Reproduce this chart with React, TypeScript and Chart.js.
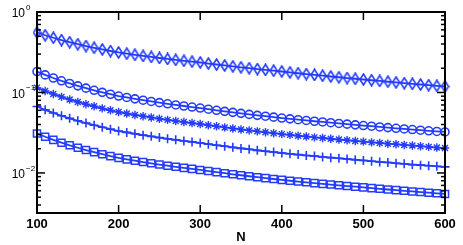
import React, { useEffect, useRef } from "react";
import { Chart, registerables } from "chart.js";

Chart.register(...registerables);

const nValues = [
  100, 110, 120, 130, 140, 150, 160, 170, 180, 190,
  200, 210, 220, 230, 240, 250, 260, 270, 280, 290,
  300, 310, 320, 330, 340, 350, 360, 370, 380, 390,
  400, 410, 420, 430, 440, 450, 460, 470, 480, 490,
  500, 510, 520, 530, 540, 550, 560, 570, 580, 590, 600,
];

const diamondValues = [
  0.556, 0.514, 0.4786, 0.448, 0.4215, 0.398, 0.3775, 0.359, 0.3426, 0.3276,
  0.314, 0.3034, 0.2936, 0.2844, 0.2761, 0.2683, 0.2609, 0.2541, 0.2476, 0.2416,
  0.2359, 0.229, 0.2226, 0.2166, 0.2109, 0.2055, 0.2003, 0.1955, 0.1909, 0.1865,
  0.1823, 0.1777, 0.1734, 0.1693, 0.1653, 0.1616, 0.158, 0.1546, 0.1512, 0.1481,
  0.145, 0.1419, 0.139, 0.136, 0.1333, 0.1306, 0.1281, 0.1256, 0.1232, 0.1209, 0.1187,
];

const circleValues = [
  0.182, 0.1653, 0.1514, 0.1396, 0.1295, 0.1208, 0.1132, 0.1065, 0.1004, 0.0951,
  0.0903, 0.0867, 0.0833, 0.0802, 0.0774, 0.0748, 0.0723, 0.07, 0.0679, 0.0659,
  0.0641, 0.062, 0.0601, 0.0583, 0.0566, 0.055, 0.0534, 0.052, 0.0507, 0.0494,
  0.0481, 0.047, 0.0459, 0.0449, 0.0439, 0.043, 0.0421, 0.0412, 0.0404, 0.0396,
  0.0388, 0.0381, 0.0373, 0.0366, 0.0359, 0.0352, 0.0346, 0.034, 0.0334, 0.0328, 0.0323,
];

const starValues = [
  0.115, 0.1044, 0.0957, 0.0882, 0.0818, 0.0763, 0.0715, 0.0673, 0.0635, 0.0601,
  0.0571, 0.0548, 0.0526, 0.0507, 0.0489, 0.0472, 0.0457, 0.0443, 0.0429, 0.0417,
  0.0405, 0.0392, 0.038, 0.0368, 0.0357, 0.0347, 0.0338, 0.0329, 0.032, 0.0312,
  0.0304, 0.0297, 0.029, 0.0284, 0.0277, 0.0272, 0.0266, 0.026, 0.0255, 0.025,
  0.0245, 0.024, 0.0236, 0.0231, 0.0227, 0.0223, 0.0219, 0.0215, 0.0211, 0.0207, 0.0204,
];

const plusValues = [
  0.067, 0.0608, 0.0557, 0.0514, 0.0477, 0.0445, 0.0417, 0.0392, 0.037, 0.035,
  0.0332, 0.0319, 0.0307, 0.0295, 0.0285, 0.0275, 0.0266, 0.0258, 0.025, 0.0243,
  0.0236, 0.0228, 0.0221, 0.0215, 0.0208, 0.0202, 0.0197, 0.0191, 0.0186, 0.0182,
  0.0177, 0.0173, 0.0169, 0.0165, 0.0162, 0.0158, 0.0155, 0.0152, 0.0149, 0.0146,
  0.0143, 0.014, 0.0137, 0.0135, 0.0132, 0.013, 0.0127, 0.0125, 0.0123, 0.0121, 0.0119,
];

const squareValues = [
  0.031, 0.02815, 0.02579, 0.02378, 0.02206, 0.02057, 0.01928, 0.01814, 0.01711, 0.0162,
  0.01538, 0.01476, 0.01419, 0.01366, 0.01318, 0.01273, 0.01232, 0.01193, 0.01157, 0.01123,
  0.01091, 0.01056, 0.01024, 0.00993, 0.00963, 0.00936, 0.0091, 0.00886, 0.00863, 0.00841,
  0.0082, 0.008, 0.00782, 0.00765, 0.00748, 0.00732, 0.00717, 0.00702, 0.00688, 0.00675,
  0.00662, 0.00648, 0.00636, 0.00623, 0.00612, 0.006, 0.00589, 0.00579, 0.00569, 0.00559, 0.00549,
];

const xTicks = [100, 200, 300, 400, 500, 600];
const yMajorTicks = [1, 0.1, 0.01];
const yExponentLabels = ["0", "\u22121", "\u22122"];
const xAxisTitle = "N";

const BLUE = "rgb(36,60,255)";
const FONT = '"Liberation Sans", Arial, Helvetica, sans-serif';

function makeDiamond(): HTMLCanvasElement {
  const c = document.createElement("canvas");
  c.width = 9;
  c.height = 13;
  const g = c.getContext("2d")!;
  g.strokeStyle = BLUE;
  g.lineWidth = 1.6;
  g.beginPath();
  g.moveTo(4.5, 1);
  g.lineTo(8, 6.5);
  g.lineTo(4.5, 12);
  g.lineTo(1, 6.5);
  g.closePath();
  g.stroke();
  return c;
}

const framePlugin = {
  id: "frame",
  afterDatasetsDraw(chart: any) {
    const { ctx, chartArea: a, scales } = chart;
    const xs = scales.x;
    const ys = scales.y;
    ctx.save();
    ctx.strokeStyle = "#000";
    const line = (x1: number, y1: number, x2: number, y2: number) => {
      ctx.beginPath();
      ctx.moveTo(x1, y1);
      ctx.lineTo(x2, y2);
      ctx.stroke();
    };
    ctx.lineWidth = 1.5;
    for (const v of xTicks) {
      const px = xs.getPixelForValue(v);
      if (px > a.left + 2 && px < a.right - 2) {
        line(px, a.bottom, px, a.bottom - 8);
        line(px, a.top, px, a.top + 8);
      }
    }
    for (const d of [1, 0.1, 0.01, 0.001]) {
      for (let m = 1; m <= 9; m++) {
        const v = d * m;
        if (v < ys.min || v > ys.max) continue;
        const py = ys.getPixelForValue(v);
        if (py < a.top + 1 || py > a.bottom - 1) continue;
        const len = m === 1 ? 8 : 4;
        line(a.left, py, a.left + len, py);
        line(a.right, py, a.right - len, py);
      }
    }
    ctx.lineWidth = 2;
    ctx.strokeRect(a.left, a.top, a.right - a.left, a.bottom - a.top);

    ctx.fillStyle = "#000";
    ctx.font = `bold 13px ${FONT}`;
    ctx.textAlign = "center";
    ctx.textBaseline = "middle";
    for (const v of xTicks) {
      ctx.fillText(String(v), xs.getPixelForValue(v), a.bottom + 11.5);
    }
    ctx.fillText(xAxisTitle, (a.left + a.right) / 2, a.bottom + 24.5);

    yMajorTicks.forEach((v, i) => {
      const py = ys.getPixelForValue(v);
      ctx.font = `12px ${FONT}`;
      ctx.textAlign = "right";
      ctx.textBaseline = "middle";
      ctx.fillText("10", 25, py + 2);
      ctx.font = `8px ${FONT}`;
      ctx.textAlign = "left";
      ctx.textBaseline = "alphabetic";
      ctx.fillText(yExponentLabels[i], 26, py - 2);
    });
    ctx.restore();
  },
};

export default function App() {
  const ref = useRef<HTMLCanvasElement | null>(null);
  useEffect(() => {
    if (!ref.current) return;
    const diamond = makeDiamond();
    const mk = (vals: number[], style: any, radius: number, pbw: number) => ({
      data: nValues.map((n, i) => ({ x: n, y: vals[i] })),
      borderColor: BLUE,
      borderWidth: 1.8,
      pointStyle: style,
      pointRadius: radius,
      pointBorderColor: BLUE,
      pointBorderWidth: pbw,
      pointBackgroundColor: "rgba(0,0,0,0)",
      clip: false as any,
      tension: 0,
    });
    const chart = new Chart(ref.current, {
      type: "line",
      data: {
        datasets: [
          mk(diamondValues, diamond, 4.5, 1.5),
          mk(circleValues, "circle", 4, 1.6),
          mk(starValues, "star", 4.2, 1.4),
          mk(plusValues, "cross", 4.5, 1.6),
          mk(squareValues, "rect", 5, 1.5),
        ],
      },
      options: {
        responsive: false,
        animation: false,
        devicePixelRatio: 1,
        layout: { padding: { left: 0, right: 18, top: 12, bottom: 0 } },
        plugins: { legend: { display: false }, tooltip: { enabled: false } },
        scales: {
          x: {
            type: "linear",
            min: 100,
            max: 600,
            ticks: { display: false },
            grid: { display: false },
            border: { display: false },
            afterFit: (s: any) => {
              s.height = 32;
            },
          },
          y: {
            type: "logarithmic",
            min: 0.00318,
            max: 1,
            ticks: { display: false },
            grid: { display: false },
            border: { display: false },
            afterFit: (s: any) => {
              s.width = 37;
            },
          },
        },
      },
      plugins: [framePlugin],
    });
    return () => chart.destroy();
  }, []);
  return (
    <div style={{ position: "absolute", left: 0, top: 0, width: 463, height: 245, background: "#fff" }}>
      <canvas ref={ref} width={463} height={245} style={{ width: 463, height: 245, display: "block" }} />
    </div>
  );
}
